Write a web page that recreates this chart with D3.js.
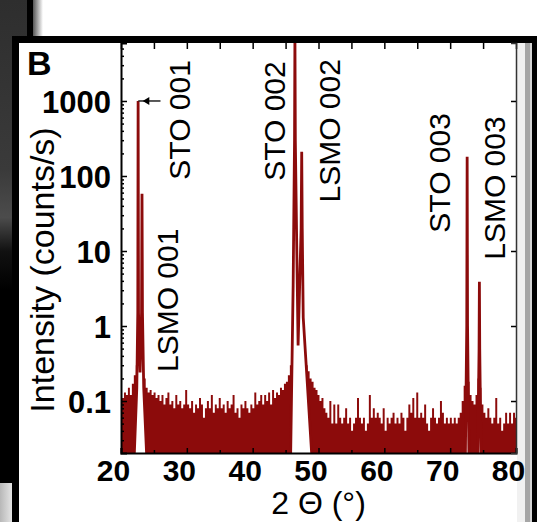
<!DOCTYPE html>
<html><head><meta charset="utf-8">
<script src="https://cdn.jsdelivr.net/npm/d3@7"></script>
<style>html,body{margin:0;padding:0;background:#fff;overflow:hidden}</style>
</head><body>
<svg id="chart" width="537" height="522"></svg>
<script>
// ---------- data ----------
const noiseStart = 20;
const noiseStep = 0.3;
const noiseIntensity = [
 0.14,0.11,0.13,0.12,0.15,0.12,0.17,0.22,0.30,0.40,
 0.38,0.30,0.20,0.15,0.13,0.14,0.12,0.13,0.11,0.12,
 0.10,0.12,0.09,0.11,0.13,0.09,0.10,0.08,0.12,0.09,
 0.10,0.08,0.09,0.14,0.09,0.08,0.10,0.07,0.09,0.08,
 0.11,0.09,0.06,0.08,0.10,0.08,0.12,0.07,0.09,0.08,
 0.11,0.08,0.09,0.07,0.10,0.08,0.09,0.12,0.07,0.08,
 0.06,0.09,0.08,0.10,0.08,0.07,0.09,0.08,0.13,0.09,
 0.10,0.12,0.09,0.12,0.10,0.13,0.09,0.14,0.11,0.13,
 0.12,0.15,0.14,0.17,0.18,0.22,0.30,0.50,0.60,0.60,
 0.60,0.60,0.50,0.40,0.30,0.25,0.20,0.18,0.15,0.14,
 0.12,0.10,0.11,0.08,0.07,0.06,0.10,0.05,0.09,0.05,
 0.09,0.06,0.05,0.06,0.08,0.05,0.06,0.04,0.05,0.06,
 0.11,0.06,0.05,0.06,0.04,0.05,0.12,0.06,0.08,0.06,
 0.07,0.06,0.05,0.08,0.04,0.06,0.05,0.06,0.07,0.05,
 0.06,0.05,0.07,0.06,0.04,0.06,0.09,0.07,0.11,0.06,
 0.13,0.06,0.07,0.06,0.09,0.05,0.04,0.06,0.08,0.06,
 0.05,0.06,0.10,0.07,0.05,0.06,0.05,0.06,0.05,0.06,
 0.05,0.06,0.07,0.10,0.16,0.25,0.18,0.12,0.10,0.09,
 0.12,0.20,0.15,0.09,0.07,0.06,0.08,0.06,0.05,0.06,
 0.11,0.05,0.06,0.04,0.05,0.07,0.05,0.07,0.05,0.07,
 0.06];

// peak profiles (2θ in degrees, intensity in counts/s)
const peakSTO001Theta = [21.97, 22.40, 22.55, 22.60, 22.66, 22.90, 23.12, 23.19, 23.26, 23.45, 23.95];
const peakSTO001Int   = [0.015, 0.15,  1.5,   1000,  1.5,   0.24,  1.5,   58,    1.5,   0.15,  0.015];
const peakSTO002Theta = [45.75, 46.15, 46.36, 46.42, 46.48, 46.90, 47.36, 47.45, 47.53, 47.68, 49.05];
const peakSTO002Int   = [0.015, 3.5,   300,   8000,  300,   0.55,  20,    210,   20,    1.3,   0.015];
const peakSTO003Theta = [72.30, 72.52, 72.58, 72.64, 72.86];
const peakSTO003Int   = [0.015, 1.0,   180,   1.0,   0.015];
const peakLSMO003Theta = [74.18, 74.39, 74.44, 74.49, 74.70];
const peakLSMO003Int   = [0.015, 0.5,   3.9,   0.5,   0.015];

const xTicks = [20, 30, 40, 50, 60, 70, 80];
const xTickLabels = ["20", "30", "40", "50", "60", "70", "80"];
const yTicks = [0.1, 1, 10, 100, 1000];
const yTickLabels = ["0.1", "1", "10", "100", "1000"];

const peakLabels = ["STO 001", "LSMO 001", "STO 002", "LSMO 002", "STO 003", "LSMO 003"];
const peakLabelTheta = [30.5, 28.7, 44.9, 53.3, 70.0, 78.4];
const peakLabelInt = [560, 2.2, 540, 400, 110, 69];

// ---------- layout ----------
const W = 537, H = 522;
const L = 121, R = 516, T = 43, B = 453;
const red = "#8c0b0b";
const font = "'Liberation Sans', Arial, Helvetica, sans-serif";

const svg = d3.select("#chart");
const defs = svg.append("defs");

const x = d3.scaleLinear().domain([20, 80]).range([L, R]);
const y = d3.scaleLog().domain([Math.pow(10, -1.693), Math.pow(10, 3.773)]).range([B, T]);

defs.append("clipPath").attr("id", "plotclip")
  .append("rect").attr("x", L).attr("y", T).attr("width", R - L).attr("height", B - T);

// ---------- photo frame decorations ----------
function vgrad(id, stops) {
  const g = defs.append("linearGradient").attr("id", id).attr("x1", 0).attr("y1", 0).attr("x2", 0).attr("y2", 1);
  stops.forEach(s => g.append("stop").attr("offset", s[0]).attr("stop-color", s[1]));
}
function hgrad(id, stops) {
  const g = defs.append("linearGradient").attr("id", id).attr("x1", 0).attr("y1", 0).attr("x2", 1).attr("y2", 0);
  stops.forEach(s => g.append("stop").attr("offset", s[0]).attr("stop-color", s[1]));
}
vgrad("leftcol", [[0, "#2e2e2e"], [0.35, "#3a3a3a"], [0.45, "#4c4c4c"], [0.52, "#111"], [0.6, "#000"], [1, "#000"]]);
hgrad("topfade", [[0, "#555"], [1, "#fff"]]);
hgrad("botleft", [[0, "#b8b8b8"], [1, "#e4e4e4"]]);

svg.append("rect").attr("x", 0).attr("y", 0).attr("width", W).attr("height", H).attr("fill", "#fff");
svg.append("rect").attr("x", 0).attr("y", 0).attr("width", 28).attr("height", 483).attr("fill", "url(#leftcol)");
svg.append("rect").attr("x", 27).attr("y", 0).attr("width", 6).attr("height", 36).attr("fill", "#000");
svg.append("rect").attr("x", 33).attr("y", 0).attr("width", 10).attr("height", 36).attr("fill", "url(#topfade)");
svg.append("rect").attr("x", 0).attr("y", 483).attr("width", 12).attr("height", 39).attr("fill", "url(#botleft)");
svg.append("rect").attr("x", 12).attr("y", 36).attr("width", 7).attr("height", 486).attr("fill", "#000");
svg.append("rect").attr("x", 19).attr("y", 43).attr("width", 9).attr("height", 479).attr("fill", "#fff");
svg.append("rect").attr("x", 12).attr("y", 36).attr("width", W - 12).attr("height", 7).attr("fill", "#000");
svg.append("rect").attr("x", 517).attr("y", 43).attr("width", 8).attr("height", 479).attr("fill", "#f1f1f1");
svg.append("rect").attr("x", 525).attr("y", 43).attr("width", 5).attr("height", 479).attr("fill", "#a6a6a6");
svg.append("rect").attr("x", 530).attr("y", 43).attr("width", 2).attr("height", 479).attr("fill", "#d4d4d4");
svg.append("rect").attr("x", 532).attr("y", 36).attr("width", 5).attr("height", 486).attr("fill", "#000");

// ---------- data marks ----------
const plot = svg.append("g").attr("clip-path", "url(#plotclip)");

const noiseTheta = noiseIntensity.map((v, i) => noiseStart + i * noiseStep);
const area = d3.area()
  .curve(d3.curveStep)
  .x((d, i) => x(noiseTheta[i]))
  .y0(B)
  .y1(d => y(d));
plot.append("path").datum(noiseIntensity).attr("d", area).attr("fill", red);

const peaks = [
  [peakSTO001Theta, peakSTO001Int],
  [peakSTO002Theta, peakSTO002Int],
  [peakSTO003Theta, peakSTO003Int],
  [peakLSMO003Theta, peakLSMO003Int]
];
const line = d3.line().x(d => x(d[0])).y(d => y(d[1]));
peaks.forEach(([th, it]) => {
  const pts = th.map((t, i) => [t, it[i]]);
  plot.append("path").attr("d", line(pts) + "Z").attr("fill", "#fff");
  plot.append("path").attr("d", line(pts)).attr("fill", "none")
    .attr("stroke", red).attr("stroke-width", 2.8).attr("stroke-linejoin", "miter").attr("stroke-miterlimit", 2);
});

// ---------- axes ----------
const minorY = y.ticks().filter(v => !yTicks.includes(v));
const axL = svg.append("g").attr("transform", `translate(${L},0)`)
  .call(d3.axisLeft(y).tickValues(yTicks).tickSize(-6).tickPadding(10)
    .tickFormat((d, i) => yTickLabels[i]));
svg.append("g").attr("transform", `translate(${L},0)`)
  .call(d3.axisLeft(y).tickValues(minorY).tickSize(-3).tickFormat(""))
  .call(g => g.select(".domain").remove());
axL.select(".domain").attr("stroke", "#000").attr("stroke-width", 2);
axL.selectAll(".tick text").attr("font-family", font).attr("font-weight", "bold")
  .attr("font-size", 31).attr("fill", "#000").attr("dy", "0.36em");

const axB = svg.append("g").attr("transform", `translate(0,${B})`)
  .call(d3.axisBottom(x).tickValues(xTicks).tickSize(-5).tickPadding(9)
    .tickFormat((d, i) => xTickLabels[i]));
svg.append("g").attr("transform", `translate(0,${B})`)
  .call(d3.axisBottom(x).tickValues(d3.range(25, 80, 10)).tickSize(-3).tickFormat(""))
  .call(g => g.select(".domain").remove());
axB.select(".domain").attr("stroke", "#000").attr("stroke-width", 2);
axB.selectAll(".tick text").attr("font-family", font).attr("font-weight", "bold")
  .attr("font-size", 30).attr("fill", "#000").attr("dx", -8).attr("dy", "0.62em");

// top ticks (inside, below the frame band)
svg.append("g").attr("transform", `translate(0,${T})`)
  .call(d3.axisTop(x).tickValues(d3.range(20, 81, 5)).tickSize(-6).tickFormat(""))
  .call(g => g.select(".domain").remove());
// right axis
const axR = svg.append("g").attr("transform", `translate(${R},0)`)
  .call(d3.axisRight(y).tickValues(yTicks).tickSize(-5).tickFormat(""));
axR.select(".domain").attr("stroke", "#333").attr("stroke-width", 1.5);
svg.selectAll(".tick line").attr("stroke", "#000").attr("stroke-width", 1.5);

// ---------- annotations ----------
peakLabels.forEach((lab, i) => {
  svg.append("text")
    .attr("transform", `translate(${x(peakLabelTheta[i])},${y(peakLabelInt[i])}) rotate(-90)`)
    .attr("text-anchor", "middle")
    .attr("font-family", font).attr("font-size", 30).attr("fill", "#000")
    .text(lab);
});

// arrow pointing at the STO 001 maximum
const arrowY = y(1000);
svg.append("line").attr("x1", x(22.62)).attr("x2", x(26.0)).attr("y1", arrowY).attr("y2", arrowY)
  .attr("stroke", "#222").attr("stroke-width", 1.5);
svg.append("path")
  .attr("d", `M${x(23.3)},${arrowY}L${x(24.3)},${arrowY - 4}L${x(24.3)},${arrowY + 4}Z`)
  .attr("fill", "#000");

// panel letter
svg.append("text").attr("x", 27).attr("y", 75)
  .attr("font-family", font).attr("font-weight", "bold").attr("font-size", 34).attr("fill", "#000")
  .text("B");

// axis titles
svg.append("text")
  .attr("transform", `translate(54,${(T + B) / 2 + 22}) rotate(-90)`)
  .attr("text-anchor", "middle")
  .attr("font-family", font).attr("font-size", 34).attr("fill", "#000")
  .text("Intensity (counts/s)");
svg.append("text")
  .attr("x", (L + R) / 2).attr("y", 514)
  .attr("text-anchor", "middle")
  .attr("font-family", font).attr("font-size", 32).attr("fill", "#000")
  .text("2 Θ (°)");
</script>
</body></html>
